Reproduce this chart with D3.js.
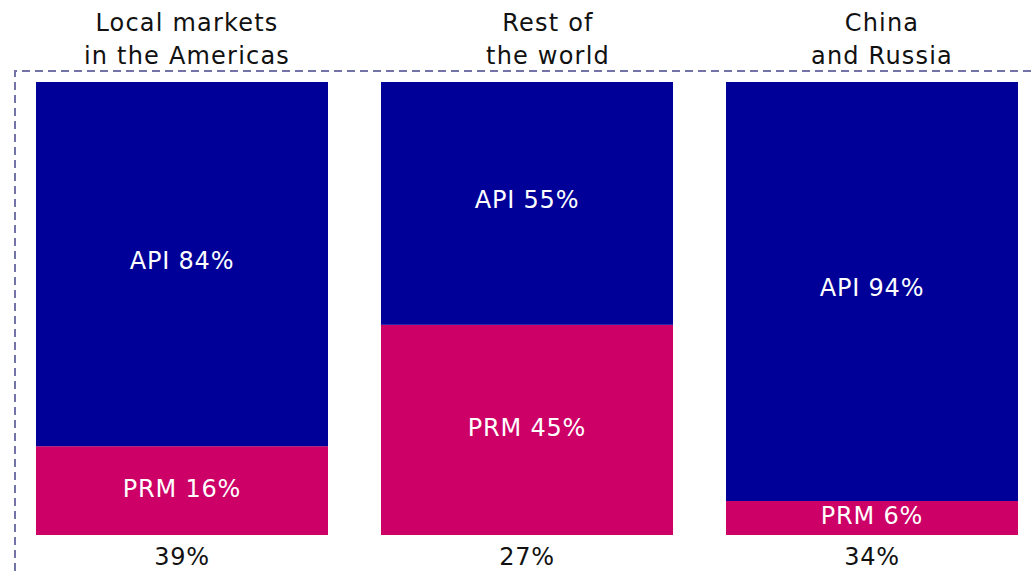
<!DOCTYPE html>
<html>
<head>
<meta charset="utf-8">
<script src="https://cdn.jsdelivr.net/npm/d3@7"></script>
<style>
  html, body { margin: 0; padding: 0; background: #fff; }
  svg { display: block; }
  text { font-family: "DejaVu Sans", Verdana, sans-serif; }
</style>
</head>
<body>
<svg id="chart" width="1035" height="571"></svg>
<script>
// ---- data ----
const categories = ["Local markets\nin the Americas", "Rest of\nthe world", "China\nand Russia"];
const apiShare = [80.4, 53.6, 92.5];   // drawn segment share
const prmShare = [19.6, 46.4, 7.5];
const apiLabels = ["API 84%", "API 55%", "API 94%"];
const prmLabels = ["PRM 16%", "PRM 45%", "PRM 6%"];
const totalLabels = ["39%", "27%", "34%"];

// ---- layout ----
const W = 1035, H = 571;
const titleShift = [5, 21, 10];   // layout nudge of category titles
const svg = d3.select("#chart");
const colors = { api: "#000099", prm: "#cc0066" };

const x = d3.scaleBand()
  .domain(d3.range(categories.length))
  .range([36, 1018])
  .paddingInner(53 / 345)
  .paddingOuter(0);

const y = d3.scaleLinear().domain([0, 100]).range([535, 82]);

// dashed frame
svg.append("path")
  .attr("d", `M15,${H} L15,71 L${W},71`)
  .attr("fill", "none")
  .attr("stroke", "#7373a8")
  .attr("stroke-width", 2)
  .attr("stroke-dasharray", "8,5");

const rows = categories.map((c, i) => ({
  i, cat: c, prm: prmShare[i], api: apiShare[i],
  apiLabel: apiLabels[i], prmLabel: prmLabels[i], total: totalLabels[i]
}));

const g = svg.selectAll("g.bar").data(rows).join("g").attr("class", "bar");

// PRM (bottom)
g.append("rect")
  .attr("x", d => x(d.i))
  .attr("width", x.bandwidth())
  .attr("y", d => y(d.prm))
  .attr("height", d => y(0) - y(d.prm))
  .attr("fill", colors.prm);

// API (top)
g.append("rect")
  .attr("x", d => x(d.i))
  .attr("width", x.bandwidth())
  .attr("y", d => y(d.prm + d.api))
  .attr("height", d => y(d.prm) - y(d.prm + d.api))
  .attr("fill", colors.api);

const cx = d => x(d.i) + x.bandwidth() / 2;
const txt = sel => sel.attr("font-size", 24).attr("letter-spacing", 0.8).attr("text-anchor", "middle");

g.append("text")
  .call(txt)
  .attr("x", cx)
  .attr("y", d => (y(d.prm) + y(d.prm + d.api)) / 2)
  .attr("dy", "0.2em")
  .attr("fill", "#ffffff")
  .text(d => d.apiLabel);

g.append("text")
  .call(txt)
  .attr("x", cx)
  .attr("y", d => (y(0) + y(d.prm)) / 2)
  .attr("dy", "0.25em")
  .attr("fill", "#ffffff")
  .text(d => d.prmLabel);

// totals below
g.append("text")
  .call(txt)
  .attr("x", cx)
  .attr("y", 565)
  .attr("fill", "#111")
  .text(d => d.total);

// category titles
g.each(function(d) {
  const lines = d.cat.split("\n");
  const t = d3.select(this).append("text")
    .call(txt)
    .attr("letter-spacing", 1.2)
    .attr("fill", "#111");
  lines.forEach((ln, k) => {
    t.append("tspan").attr("x", cx(d) + titleShift[d.i]).attr("y", 31 + k * 33).text(ln);
  });
});
</script>
</body>
</html>
